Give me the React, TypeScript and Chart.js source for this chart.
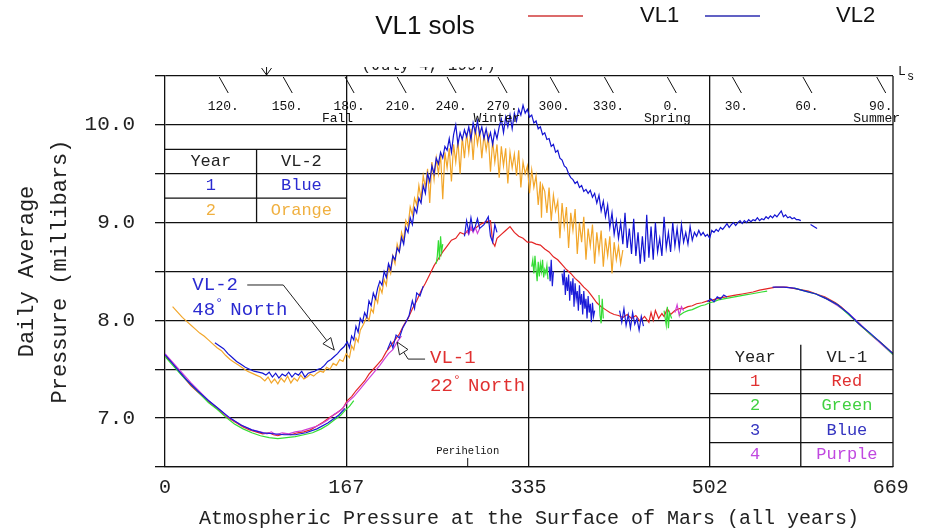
import React, { useEffect, useRef } from 'react';
import { Chart, registerables } from 'chart.js';
Chart.register(...registerables);

type P = [number, number | null];

// ---------- axis / label data ----------
const xTickValues = [0, 167, 335, 502, 669];
const xGridValues = [167, 335, 502];
const yLabelValues = [7, 8, 9, 10];

const lsLabels = ['120.', '150.', '180.', '210.', '240.', '270.', '300.', '330.', '0.', '30.', '60.', '90.'];
const lsSols = [50, 109, 166, 214, 260, 307, 355, 405, 463, 523, 588, 656];
const seasonLabels = ['Fall', 'Winter', 'Spring', 'Summer'];
const seasonSols = [159, 306, 463, 656];
const perihelionSol = 279;
const landingSol = 93.6;

const vl2TableRows = [['Year', 'VL-2'], ['1', 'Blue'], ['2', 'Orange']];
const vl1TableRows = [['Year', 'VL-1'], ['1', 'Red'], ['2', 'Green'], ['3', 'Blue'], ['4', 'Purple']];

// ---------- series (sol, mbar) ----------
const vl1Year1: P[] = [
  [0, 7.64], [6, 7.57], [12, 7.49], [18, 7.41], [24, 7.33], [30, 7.27], [36, 7.21], [42, 7.15], [48, 7.1],
  [54, 7.04], [60, 6.99], [66, 6.95], [72, 6.91], [78, 6.88], [84, 6.86], [90, 6.84], [96, 6.85], [100, 6.83],
  [104, 6.82], [110, 6.84], [116, 6.83], [122, 6.85], [128, 6.86], [134, 6.88], [140, 6.92], [146, 6.96],
  [152, 7.01], [158, 7.05], [164, 7.1], [168, 7.18], [172, 7.22], [176, 7.28], [180, 7.33], [184, 7.38],
  [188, 7.45], [192, 7.5], [196, 7.55], [200, 7.6], [204, 7.68], [208, 7.74], [212, 7.8], [216, 7.86],
  [220, 7.95], [224, 8.02], [228, 8.12], [232, 8.2], [236, 8.3], [240, 8.38], [244, 8.47], [248, 8.56],
  [252, 8.63], [256, 8.7], [260, 8.76], [264, 8.82], [268, 8.84], [272, 8.9], [276, 8.88], [280, 8.93],
  [284, 8.92], [288, 8.96], [292, 8.99], [296, 9.01], [300, 9.02], [302, 8.8], [304, 8.76], [306, 8.84],
  [310, 8.88], [314, 8.92], [318, 8.96], [322, 8.9], [326, 8.86], [330, 8.84], [334, 8.8], [338, 8.8],
  [342, 8.78], [346, 8.77], [350, 8.73], [354, 8.7], [358, 8.65], [362, 8.62], [366, 8.57], [370, 8.52],
  [374, 8.48], [378, 8.43], [382, 8.39], [386, 8.34], [390, 8.3], [394, 8.24], [398, 8.18], [402, 8.14],
  [406, 8.11], [410, 8.08], [414, 8.06], [418, 8.05], [422, 8.03], [426, 8.06], [430, 8.02], [434, 8.05],
  [438, 7.99], [442, 8.04], [446, 7.98], [448, 8.08], [450, 8.0], [452, 8.1], [455, 8.02], [458, 8.07],
  [460, 8.04], [463, 8.12], [466, 8.06], [470, 8.1], [474, 8.12], [478, 8.12], [482, 8.14], [486, 8.15],
  [490, 8.17], [495, 8.18], [500, 8.2], [505, 8.21], [511, 8.23], [517, 8.24], [522, 8.25], [527, 8.26],
  [532, 8.27], [537, 8.28], [542, 8.29], [548, 8.31], [553, 8.32], [558, 8.33], [563, 8.34], [568, 8.34],
  [573, 8.34], [578, 8.33], [583, 8.32], [588, 8.31], [593, 8.3], [598, 8.28], [603, 8.26], [608, 8.24],
  [613, 8.21], [618, 8.18], [623, 8.14], [628, 8.09], [633, 8.03], [638, 7.98], [643, 7.93], [648, 7.88],
  [653, 7.83], [658, 7.79], [663, 7.74], [667, 7.7], [671, 7.66],
];

const vl1Year2: P[] = [
  [0, 7.63], [8, 7.53], [16, 7.43], [24, 7.34], [32, 7.25], [40, 7.16], [48, 7.09], [56, 7.01], [64, 6.94],
  [72, 6.89], [80, 6.85], [88, 6.82], [96, 6.8], [104, 6.79], [112, 6.8], [120, 6.81], [128, 6.83],
  [136, 6.85], [144, 6.89], [150, 6.93], [156, 6.98], [162, 7.03], [166, 7.08], [170, 7.12], [174, 7.18],
  [175, null],
  [250, 8.58], [251, 8.66], [252, 8.82], [253, 8.62], [254, 8.86], [255, 8.7], [256, 8.78], [257, null],
  [338, 8.55], [339, 8.62], [340, 8.48], [341, 8.66], [342, 8.52], [343, 8.4], [344, 8.6], [345, 8.45],
  [346, 8.58], [347, 8.5], [348, 8.62], [349, 8.44], [350, 8.52], [351, 8.48], [352, 8.56], [353, 8.42],
  [354, null],
  [400, 8.26], [401, 8.05], [402, 7.97], [403, 8.22], [404, 8.02], [405, null],
  [460, 8.1], [462, 7.95], [463, 8.14], [464, 7.92], [465, 8.08], [467, 8.02], [468, null],
  [474, 8.05], [478, 8.08], [482, 8.1], [486, 8.11], [490, 8.13], [494, 8.15], [498, 8.16], [502, 8.18],
  [506, 8.19], [510, 8.21], [515, 8.22], [520, 8.23], [525, 8.24], [530, 8.25], [535, 8.26], [540, 8.27],
  [545, 8.28], [550, 8.29], [555, 8.3], [556, null],
  [580, 8.33], [590, 8.3], [600, 8.27], [610, 8.22], [620, 8.16], [630, 8.06], [640, 7.96], [650, 7.86],
  [660, 7.77], [671, 7.65],
];

const vl1Year3: P[] = [
  [0, 7.65], [10, 7.52], [20, 7.39], [30, 7.28], [40, 7.18], [50, 7.09], [60, 7.0], [70, 6.93], [80, 6.88],
  [90, 6.85], [100, 6.84], [110, 6.83], [120, 6.83], [130, 6.85], [140, 6.89], [150, 6.95], [160, 7.03],
  [166, 7.1], [167, null],
  [205, 7.7], [208, 7.78], [210, 7.72], [213, 7.85], [216, 7.82], [219, 7.92], [222, 7.98], [225, 8.05],
  [228, 8.2], [230, 8.12], [232, 8.28], [235, 8.25], [238, 8.35], [239, null],
  [276, 8.86], [278, 9.02], [280, 8.9], [282, 9.05], [284, 8.92], [286, 8.96], [288, 9.04], [290, 8.94],
  [294, 8.98], [298, 9.06], [300, 8.86], [302, 8.8], [304, 8.98], [306, 8.9], [307, null],
  [354, 8.55], [355, 8.4], [356, 8.62], [357, 8.35], [358, 8.5], [359, null],
  [366, 8.48], [367, 8.36], [368, 8.52], [369, 8.26], [370, 8.44], [371, 8.3], [372, 8.47], [373, 8.2],
  [374, 8.4], [375, 8.26], [376, 8.43], [377, 8.14], [378, 8.38], [379, 8.22], [380, 8.3], [381, 8.1],
  [382, 8.36], [383, 8.16], [384, 8.27], [385, 8.06], [386, 8.3], [387, 8.12], [388, 8.22], [389, 8.02],
  [390, 8.25], [391, 8.08], [392, 8.17], [393, 7.98], [394, 8.18], [395, 8.04], [396, 8.1], [397, null],
  [419, 8.1], [421, 7.98], [423, 8.12], [425, 7.95], [427, 8.06], [429, 7.92], [431, 8.08], [433, 7.96],
  [435, 8.02], [437, 7.9], [439, 8.04], [441, 7.94], [442, null],
  [500, 8.19], [503, 8.22], [506, 8.19], [509, 8.24], [512, 8.22], [515, 8.26], [518, 8.24], [519, null],
  [560, 8.34], [570, 8.34], [580, 8.33], [590, 8.3], [600, 8.27], [610, 8.22], [620, 8.16], [630, 8.07],
  [640, 7.96], [650, 7.87], [660, 7.77], [671, 7.66],
];

const vl1Year4: P[] = [
  [0, 7.66], [8, 7.56], [16, 7.46], [24, 7.36], [32, 7.27], [40, 7.18], [48, 7.11], [56, 7.03], [64, 6.97],
  [72, 6.92], [80, 6.88], [88, 6.86], [94, 6.84], [98, 6.86], [102, 6.83], [108, 6.85], [114, 6.84],
  [120, 6.86], [126, 6.87], [132, 6.89], [138, 6.91], [144, 6.94], [150, 6.98], [156, 7.04], [162, 7.08],
  [168, 7.16], [174, 7.22], [180, 7.3], [186, 7.38], [192, 7.46], [198, 7.54], [202, 7.6], [206, 7.66],
  [210, 7.7], [214, 7.78], [218, 7.84], [219, null],
  [278, 8.92], [280, 8.88], [282, 8.96], [284, 8.9], [286, 8.95], [288, 8.89], [290, 8.94], [291, null],
  [470, 8.08], [472, 8.16], [474, 8.05], [476, 8.14], [478, 8.1], [479, null],
  [600, 8.27], [610, 8.22], [620, 8.15], [630, 8.07], [640, 7.97], [650, 7.86], [660, 7.76], [671, 7.65],
];

const vl2Year1: P[] = [
  [46, 7.77], [50, 7.74], [54, 7.71], [58, 7.66], [62, 7.62], [66, 7.58], [70, 7.55], [74, 7.52], [78, 7.5],
  [82, 7.48], [86, 7.47], [90, 7.46], [93, 7.44], [96, 7.47], [99, 7.42], [102, 7.46], [105, 7.41],
  [108, 7.45], [111, 7.43], [114, 7.47], [117, 7.42], [120, 7.46], [123, 7.44], [126, 7.48], [129, 7.42],
  [132, 7.46], [135, 7.47], [138, 7.48], [141, 7.5], [144, 7.51], [147, 7.54], [150, 7.58], [153, 7.6],
  [156, 7.63], [159, 7.66], [162, 7.7], [165, 7.73], [168, 7.78], [170, 7.72], [172, 7.84], [174, 7.8],
  [176, 7.94], [178, 7.88], [180, 8.02], [182, 7.98], [184, 8.08], [186, 8.03], [188, 8.2], [190, 8.15],
  [192, 8.28], [194, 8.22], [196, 8.33], [198, 8.4], [200, 8.36], [202, 8.5], [204, 8.44], [206, 8.58],
  [208, 8.52], [210, 8.66], [212, 8.62], [214, 8.74], [216, 8.7], [218, 8.85], [220, 8.78], [222, 8.95],
  [224, 8.9], [226, 9.05], [228, 8.98], [230, 9.15], [232, 9.1], [234, 9.25], [236, 9.2], [238, 9.38],
  [240, 9.3], [242, 9.5], [244, 9.42], [246, 9.58], [248, 9.5], [250, 9.66], [252, 9.6], [254, 9.72],
  [256, 9.66], [258, 9.78], [260, 9.74], [262, 9.86], [264, 9.72], [266, 9.9], [268, 10.0], [270, 9.8],
  [272, 9.92], [274, 9.85], [276, 9.95], [278, 9.88], [280, 9.98], [282, 9.85], [284, 10.02], [286, 9.92],
  [288, 10.04], [290, 9.9], [292, 9.98], [294, 9.86], [296, 9.96], [298, 9.84], [300, 9.92], [302, 9.8],
  [304, 9.94], [306, 9.86], [308, 9.98], [310, 10.06], [312, 9.92], [314, 10.08], [316, 9.98], [318, 10.1],
  [320, 9.96], [322, 10.12], [324, 10.04], [326, 10.16], [328, 10.1], [330, 10.2], [332, 10.12],
  [334, 10.16], [336, 10.08], [338, 10.1], [340, 10.02], [342, 10.04], [344, 9.96], [346, 9.98], [348, 9.9],
  [350, 9.92], [352, 9.85], [354, 9.86], [356, 9.78], [358, 9.8], [360, 9.72], [362, 9.74], [364, 9.66],
  [366, 9.64], [368, 9.58], [370, 9.56], [372, 9.5], [374, 9.46], [376, 9.44], [378, 9.4], [380, 9.42],
  [382, 9.36], [384, 9.38], [386, 9.32], [388, 9.34], [390, 9.3], [392, 9.33], [394, 9.26], [396, 9.3],
  [398, 9.2], [400, 9.28], [402, 9.12], [404, 9.22], [406, 9.06], [408, 9.18], [410, 8.95], [412, 9.1],
  [414, 8.88], [416, 9.02], [418, 8.84], [420, 9.0], [422, 8.78], [424, 9.1], [426, 8.74], [428, 8.94],
  [430, 8.68], [432, 9.04], [434, 8.66], [436, 8.9], [438, 8.58], [440, 8.86], [442, 8.6], [444, 9.08],
  [446, 8.64], [448, 8.96], [450, 8.62], [452, 9.0], [454, 8.7], [456, 8.84], [458, 8.66], [460, 9.06],
  [462, 8.74], [464, 8.9], [466, 8.7], [468, 9.0], [470, 8.76], [472, 8.94], [474, 8.74], [476, 8.98],
  [478, 8.8], [480, 8.9], [482, 8.78], [484, 8.96], [486, 8.82], [488, 8.9], [490, 8.86], [492, 8.92],
  [494, 8.87], [496, 8.9], [498, 8.86], [500, 8.88], [502, 8.84], [504, 8.92], [506, 8.9], [508, 8.93],
  [510, 8.91], [512, 8.95], [514, 8.93], [516, 8.96], [518, 8.99], [520, 8.95], [522, 8.98], [524, 9.0],
  [526, 8.97], [528, 9.0], [530, 9.02], [532, 8.99], [534, 9.02], [536, 9.0], [538, 9.03], [540, 9.01],
  [542, 9.03], [544, 9.02], [546, 9.05], [548, 9.02], [550, 9.04], [552, 9.03], [554, 9.06], [556, 9.04],
  [558, 9.07], [560, 9.05], [562, 9.08], [564, 9.06], [566, 9.09], [568, 9.12], [570, 9.06], [572, 9.08],
  [574, 9.05], [576, 9.06], [578, 9.04], [580, 9.05], [582, 9.03], [584, 9.03], [586, 9.02], [587, null],
  [595, 8.98], [598, 8.96], [601, 8.94],
];

const vl2Year2: P[] = [
  [7, 8.14], [12, 8.08], [16, 8.03], [20, 7.99], [24, 7.95], [28, 7.91], [32, 7.87], [36, 7.84], [40, 7.8],
  [44, 7.76], [48, 7.72], [52, 7.69], [56, 7.64], [60, 7.6], [64, 7.57], [68, 7.54], [72, 7.51], [76, 7.48],
  [80, 7.46], [84, 7.44], [88, 7.42], [92, 7.38], [95, 7.42], [98, 7.36], [101, 7.4], [104, 7.35],
  [107, 7.41], [110, 7.37], [113, 7.43], [116, 7.36], [119, 7.41], [122, 7.38], [125, 7.44], [128, 7.4],
  [131, 7.42], [134, 7.45], [137, 7.43], [140, 7.46], [143, 7.48], [146, 7.47], [149, 7.52], [152, 7.5],
  [155, 7.56], [158, 7.54], [161, 7.6], [164, 7.58], [167, 7.66], [170, 7.62], [172, 7.74], [174, 7.7],
  [176, 7.82], [178, 7.78], [180, 7.9], [183, 7.96], [186, 8.04], [188, 8.0], [190, 8.12], [192, 8.08],
  [194, 8.24], [196, 8.18], [198, 8.34], [200, 8.28], [202, 8.42], [204, 8.36], [206, 8.55], [208, 8.48],
  [210, 8.66], [212, 8.58], [214, 8.78], [216, 8.7], [218, 8.9], [220, 8.82], [222, 9.02], [224, 8.96],
  [226, 9.16], [228, 9.08], [230, 9.25], [232, 9.18], [234, 9.38], [236, 9.24], [238, 9.48], [240, 9.36],
  [242, 9.55], [244, 9.2], [246, 9.62], [248, 9.44], [250, 9.66], [252, 9.5], [254, 9.7], [256, 9.24],
  [258, 9.72], [260, 9.56], [262, 9.76], [264, 9.42], [266, 9.8], [268, 9.62], [270, 9.84], [272, 9.5],
  [274, 9.88], [276, 9.66], [278, 9.92], [280, 9.72], [282, 9.96], [284, 9.64], [286, 9.98], [288, 9.8],
  [290, 9.94], [292, 9.66], [294, 9.9], [296, 9.74], [298, 9.88], [300, 9.52], [302, 9.84], [304, 9.62],
  [306, 9.8], [308, 9.46], [310, 9.78], [312, 9.58], [314, 9.76], [316, 9.4], [318, 9.72], [320, 9.56],
  [322, 9.7], [324, 9.48], [326, 9.74], [328, 9.36], [330, 9.62], [332, 9.5], [334, 9.58], [336, 9.3],
  [338, 9.54], [340, 9.36], [342, 9.48], [344, 9.18], [346, 9.42], [347, 9.05], [348, 9.38], [350, 9.32],
  [352, 9.1], [354, 9.36], [356, 9.02], [358, 9.28], [360, 9.12], [362, 9.22], [364, 8.84], [366, 9.2],
  [368, 8.96], [370, 9.16], [372, 8.74], [374, 9.1], [376, 8.92], [378, 9.14], [380, 8.68], [382, 9.0],
  [384, 8.8], [386, 9.06], [388, 8.62], [390, 8.94], [392, 8.76], [394, 8.98], [396, 8.58], [398, 8.9],
  [400, 8.7], [402, 8.92], [404, 8.55], [406, 8.84], [408, 8.66], [410, 8.86], [412, 8.48], [414, 8.8],
  [416, 8.62], [418, 8.76], [420, 8.58], [422, 8.72],
];

const seriesNames = ['VL-2 Year 1', 'VL-2 Year 2', 'VL-1 Year 3', 'VL-1 Year 2', 'VL-1 Year 4', 'VL-1 Year 1'];
const seriesData = [vl2Year1, vl2Year2, vl1Year3, vl1Year2, vl1Year4, vl1Year1];
const seriesColors = ['#1414d2', '#f2a62a', '#1a1ad8', '#34dc34', '#d040d8', '#e42424'];

const MONO = "'Liberation Mono', 'DejaVu Sans Mono', monospace";
const SANS = "'Liberation Sans', Arial, sans-serif";

function txt(ctx: CanvasRenderingContext2D, s: string, x: number, y: number, font: string, color: string, align: CanvasTextAlign = 'center') {
  ctx.font = font;
  ctx.fillStyle = color;
  ctx.textAlign = align;
  ctx.textBaseline = 'middle';
  ctx.fillText(s, x, y);
}
function seg(ctx: CanvasRenderingContext2D, x1: number, y1: number, x2: number, y2: number) {
  ctx.beginPath();
  ctx.moveTo(x1, y1);
  ctx.lineTo(x2, y2);
  ctx.stroke();
}
function arrowHead(ctx: CanvasRenderingContext2D, fx: number, fy: number, tx: number, ty: number) {
  const dx = tx - fx, dy = ty - fy;
  const len = Math.hypot(dx, dy);
  const ux = dx / len, uy = dy / len;
  const bx = tx - ux * 12, by = ty - uy * 12;
  ctx.beginPath();
  ctx.moveTo(tx, ty);
  ctx.lineTo(bx - uy * 5, by + ux * 5);
  ctx.lineTo(bx + uy * 5, by - ux * 5);
  ctx.closePath();
  ctx.fillStyle = '#fff';
  ctx.fill();
  ctx.stroke();
}

const decorPlugin = {
  id: 'decor',
  afterDatasetsDraw(chart: any) {
    const ctx: CanvasRenderingContext2D = chart.ctx;
    const xs = chart.scales.x, ys = chart.scales.y;
    const px = (v: number) => xs.getPixelForValue(v);
    const py = (v: number) => ys.getPixelForValue(v);
    const { right, top, bottom } = chart.chartArea;
    ctx.save();
    ctx.strokeStyle = '#111';
    ctx.lineWidth = 1.3;
    // right frame
    seg(ctx, right, top, right, bottom);

    // Ls band
    ctx.lineWidth = 1;
    lsSols.forEach((s, i) => {
      const x0 = px(s);
      seg(ctx, x0, top + 1, x0 + 9, top + 17);
      txt(ctx, lsLabels[i], x0 + 4, top + 31, `13px ${MONO}`, '#111');
    });
    seasonLabels.forEach((s, i) => {
      txt(ctx, s, px(seasonSols[i]), top + 43, `13px ${MONO}`, '#111');
    });
    // L_s
    txt(ctx, 'L', right + 5, top - 4, `13px ${MONO}`, '#111', 'left');
    txt(ctx, 's', right + 14, top + 1, `12px ${MONO}`, '#111', 'left');

    // clipped landing note above the frame
    ctx.save();
    ctx.beginPath();
    ctx.rect(0, top - 9, chart.width, 9);
    ctx.clip();
    txt(ctx, '(July 4, 1997)', px(243), top - 10, `16px ${MONO}`, '#222');
    const lx = px(landingSol);
    seg(ctx, lx, top - 12, lx, top - 1);
    seg(ctx, lx - 5, top - 8, lx, top - 1);
    seg(ctx, lx + 5, top - 8, lx, top - 1);
    ctx.restore();

    // perihelion
    const ph = px(perihelionSol);
    seg(ctx, ph, bottom - 9, ph, bottom);
    txt(ctx, 'Perihelion', ph, bottom - 16, `10.5px ${MONO}`, '#111');

    // VL-2 table (upper left)
    ctx.lineWidth = 1.3;
    seg(ctx, px(0), py(9.75), px(167), py(9.75));
    seg(ctx, px(0), py(9.25), px(167), py(9.25));
    const midL = px(84.4);
    seg(ctx, midL, py(9.75), midL, py(9.0));
    const lc1 = (px(0) + midL) / 2, lc2 = (midL + px(167)) / 2;
    const vl2Colors = ['#222', '#2a2ad0', '#f0b040'];
    const lRowY = [9.625, 9.375, 9.125];
    vl2TableRows.forEach((r, i) => {
      txt(ctx, r[0], lc1, py(lRowY[i]), `17px ${MONO}`, vl2Colors[i]);
      txt(ctx, r[1], lc2, py(lRowY[i]), `17px ${MONO}`, vl2Colors[i]);
    });

    // VL-1 table (lower right)
    seg(ctx, px(502), py(7.25), right, py(7.25));
    seg(ctx, px(502), py(6.75), right, py(6.75));
    const midR = px(586);
    seg(ctx, midR, py(7.75), midR, py(6.5));
    const rc1 = (px(502) + midR) / 2, rc2 = (midR + right) / 2;
    const vl1Colors = ['#222', '#e03030', '#40d040', '#3434c0', '#c048e0'];
    const rRowY = [7.625, 7.375, 7.125, 6.875, 6.625];
    vl1TableRows.forEach((r, i) => {
      txt(ctx, r[0], rc1, py(rRowY[i]), `17px ${MONO}`, vl1Colors[i]);
      txt(ctx, r[1], rc2, py(rRowY[i]), `17px ${MONO}`, vl1Colors[i]);
    });

    // VL-2 annotation
    txt(ctx, 'VL-2', px(25.2), py(8.362), `19px ${MONO}`, '#2a2ad0', 'left');
    txt(ctx, '48', px(25.2), py(8.106), `19px ${MONO}`, '#2a2ad0', 'left');
    txt(ctx, '°', px(25.2) + 23, py(8.106) - 6, `13px ${MONO}`, '#2a2ad0', 'left');
    txt(ctx, 'North', px(25.2) + 38, py(8.106), `19px ${MONO}`, '#2a2ad0', 'left');
    ctx.strokeStyle = '#222';
    ctx.lineWidth = 1;
    seg(ctx, px(75.8), py(8.362), px(109), py(8.362));
    seg(ctx, px(109), py(8.362), px(156), py(7.696));
    arrowHead(ctx, px(109), py(8.362), px(156), py(7.696));

    // VL-1 annotation
    txt(ctx, 'VL-1', px(244.3), py(7.614), `19px ${MONO}`, '#e03030', 'left');
    txt(ctx, '22', px(244.3), py(7.328), `19px ${MONO}`, '#e03030', 'left');
    txt(ctx, '°', px(244.3) + 23, py(7.328) - 6, `13px ${MONO}`, '#e03030', 'left');
    txt(ctx, 'North', px(244.3) + 38, py(7.328), `19px ${MONO}`, '#e03030', 'left');
    seg(ctx, px(239.7), py(7.604), px(224.1), py(7.604));
    seg(ctx, px(224.1), py(7.604), px(214), py(7.778));
    arrowHead(ctx, px(224.1), py(7.604), px(214), py(7.778));

    ctx.restore();
  },
  afterDraw(chart: any) {
    const ctx: CanvasRenderingContext2D = chart.ctx;
    ctx.save();
    txt(ctx, 'VL1 sols', 425, 27, `26px ${SANS}`, '#111');
    ctx.lineWidth = 1.6;
    ctx.strokeStyle = '#d03a3a';
    seg(ctx, 528, 16, 583, 16);
    txt(ctx, 'VL1', 640, 16, `22px ${SANS}`, '#111', 'left');
    ctx.strokeStyle = '#2c2cb0';
    seg(ctx, 705, 16, 760, 16);
    txt(ctx, 'VL2', 836, 16, `22px ${SANS}`, '#111', 'left');
    ctx.restore();
  },
};

export default function App() {
  const ref = useRef<HTMLCanvasElement>(null);
  useEffect(() => {
    const chart = new Chart(ref.current as HTMLCanvasElement, {
      type: 'line',
      data: {
        datasets: seriesData.map((d, i) => ({
          label: seriesNames[i],
          data: d.map(([x, y]) => ({ x, y })),
          borderColor: seriesColors[i],
          backgroundColor: seriesColors[i],
          borderWidth: 1.2,
          pointRadius: 0,
          tension: 0,
          spanGaps: false,
          fill: false,
        })),
      },
      options: {
        responsive: false,
        animation: false,
        layout: { padding: { top: 76, right: 39, left: 0, bottom: 0 } },
        plugins: { legend: { display: false }, title: { display: false }, tooltip: { enabled: false } },
        scales: {
          x: {
            type: 'linear',
            min: 0,
            max: 671,
            afterBuildTicks: (s: any) => { s.ticks = xTickValues.map((v) => ({ value: v })); },
            afterFit: (s: any) => { s.height = 65; },
            ticks: { font: { family: MONO, size: 20 }, color: '#222', padding: 9, maxRotation: 0, autoSkip: false, callback: (v: any) => String(v) },
            grid: {
              color: (c: any) => (c.tick && xGridValues.includes(c.tick.value) ? '#111' : 'rgba(0,0,0,0)'),
              lineWidth: 1.3,
              drawTicks: false,
            },
            border: { display: true, color: '#111', width: 1.3 },
            title: { display: true, text: 'Atmospheric Pressure at the Surface of Mars (all years)', font: { family: MONO, size: 20 }, color: '#222', padding: { top: 0, bottom: 1 } },
          },
          y: {
            type: 'linear',
            min: 6.5,
            max: 10.5,
            afterFit: (s: any) => { s.width = 165; },
            ticks: {
              stepSize: 0.5,
              font: { family: MONO, size: 21 },
              color: '#222',
              padding: 20,
              callback: (v: any) => (yLabelValues.includes(Number(v)) ? Number(v).toFixed(1) : ''),
            },
            grid: { color: '#111', lineWidth: 1.3, tickLength: 10 },
            border: { display: true, color: '#111', width: 1.3 },
            title: { display: true, text: ['Daily Average', 'Pressure (millibars)'], font: { family: MONO, size: 22, lineHeight: 1.5 }, color: '#222', padding: { top: 10.5, bottom: 0 } },
          },
        },
      },
      plugins: [decorPlugin],
    } as any);
    return () => chart.destroy();
  }, []);
  return (
    <div style={{ position: 'fixed', left: 0, top: 0, width: 932, height: 532, background: '#fff' }}>
      <canvas ref={ref} width={932} height={532} style={{ display: 'block' }} />
    </div>
  );
}
